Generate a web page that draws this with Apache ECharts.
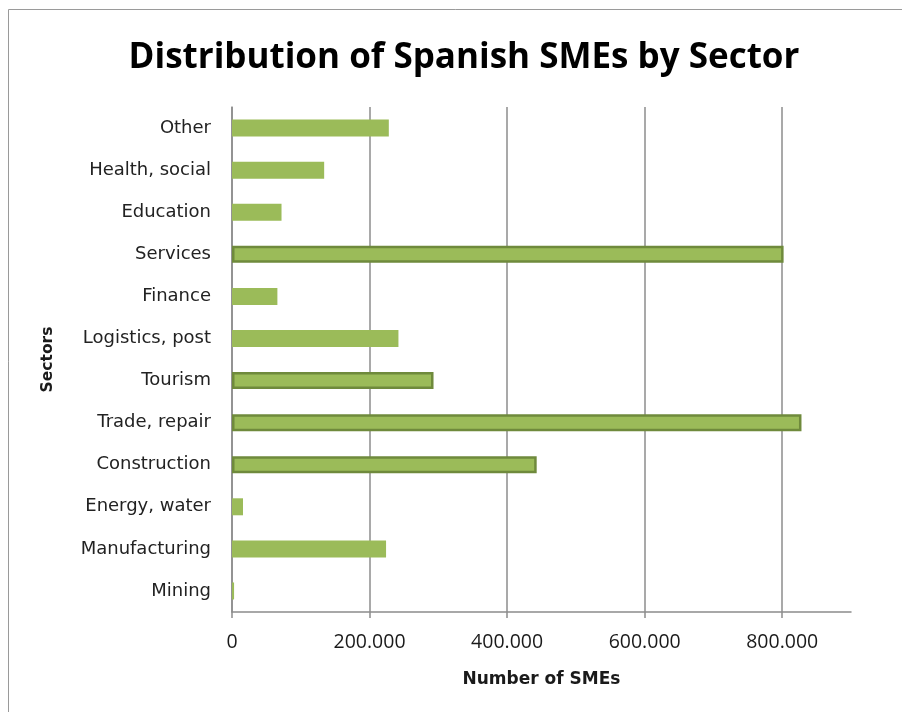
<!DOCTYPE html>
<html>
<head>
<meta charset="utf-8">
<script src="https://cdn.jsdelivr.net/npm/echarts@6/dist/echarts.min.js"></script>
<style>html,body{margin:0;padding:0;background:#fff}#c{width:902px;height:712px}</style>
</head>
<body>
<div id="c"></div>
<script>
var categories = ["Mining","Manufacturing","Energy, water","Construction","Trade, repair","Tourism","Logistics, post","Finance","Services","Education","Health, social","Other"];
var values = [3000, 224000, 16000, 443000, 828000, 293000, 242000, 66000, 802000, 72000, 134000, 228000];
var outlined = ["Construction","Trade, repair","Tourism","Services"];
var xTicks = [0, 200000, 400000, 600000, 800000];

var chart = echarts.init(document.getElementById('c'));
var font = "'Open Sans', 'Liberation Sans', sans-serif";
var wide = "'DejaVu Sans', sans-serif";
var data = values.map(function (v, i) {
  var o = { value: v };
  if (outlined.indexOf(categories[i]) >= 0) {
    o.itemStyle = { borderColor: '#6f8a3c', borderWidth: 2.5 };
  }
  return o;
});
chart.setOption({
  animation: false,
  backgroundColor: '#fff',
  title: {
    text: 'Distribution of Spanish SMEs by Sector',
    left: 459, top: 36, textAlign: 'center',
    textStyle: { fontFamily: font, fontWeight: 'bold', fontSize: 35, color: '#000' }
  },
  graphic: [{
    type: 'rect', shape: { x: 8.5, y: 9.5, width: 900, height: 710 },
    style: { fill: 'none', stroke: '#9a9a9a', lineWidth: 1 }, silent: true
  }],
  grid: { left: 232, right: 51, top: 107, bottom: 100, containLabel: false },
  xAxis: {
    type: 'value', min: 0, max: 900000, interval: 200000,
    name: 'Number of SMEs', nameLocation: 'middle', nameGap: 59,
    nameTextStyle: { fontFamily: wide, fontWeight: 'bold', fontSize: 17, color: '#1a1a1a' },
    axisLine: { show: true, lineStyle: { color: '#8c8c8c', width: 1.5 } },
    axisTick: { show: true, length: 6, customValues: xTicks, lineStyle: { color: '#8c8c8c', width: 1.5 } },
    axisLabel: {
      customValues: xTicks, margin: 20, fontFamily: font, fontSize: 19.5, color: '#1a1a1a',
      formatter: function (v) {
        return String(v).replace(/\B(?=(\d{3})+(?!\d))/g, '.');
      }
    },
    splitLine: { show: true, lineStyle: { color: '#8c8c8c', width: 1.5 } }
  },
  yAxis: {
    type: 'category', data: categories,
    name: 'Sectors', nameLocation: 'middle', nameGap: 176, nameRotate: 90,
    nameTextStyle: { fontFamily: wide, fontWeight: 'bold', fontSize: 15.5, color: '#1a1a1a' },
    axisLine: { show: true, lineStyle: { color: '#8c8c8c', width: 1.5 } },
    axisTick: { show: false },
    axisLabel: { margin: 21, fontFamily: wide, fontSize: 18, color: '#222', padding: [4, 0, 0, 0] }
  },
  series: [{
    type: 'bar', data: data, barWidth: 17,
    itemStyle: { color: '#9bbb59' }
  }]
});
</script>
</body>
</html>
